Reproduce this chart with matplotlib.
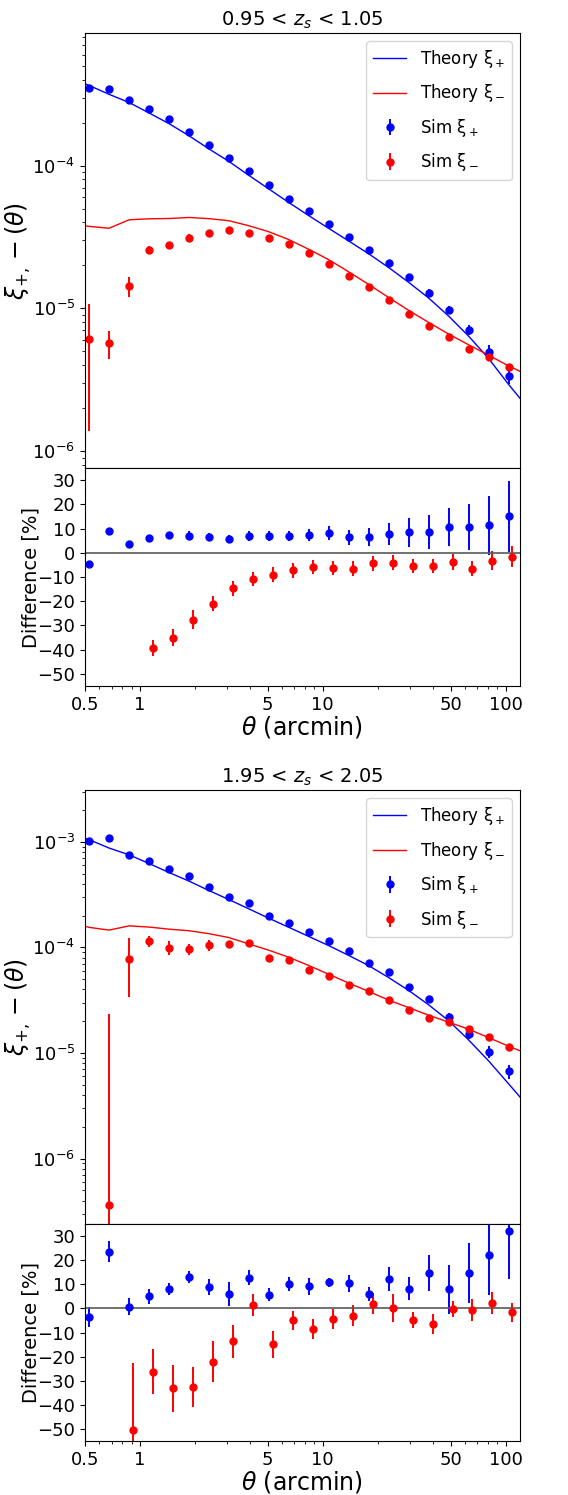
import numpy as np
import matplotlib
matplotlib.use("Agg")
import matplotlib.pyplot as plt
from matplotlib.ticker import FixedLocator, FixedFormatter, LogLocator, NullFormatter

# angular bins (arcmin)
theta = [0.526, 0.677, 0.871, 1.12, 1.44, 1.853, 2.383, 3.065, 3.942, 5.07, 6.522,
         8.388, 10.79, 13.88, 17.84, 22.95, 29.52, 37.97, 48.84, 62.81, 80.79, 103.9]
theta_edges = [0.5, 120]

titles = ['0.95 < $z_s$ < 1.05', '1.95 < $z_s$ < 2.05']

# z ~ 1
sim_p1 = [3.48e-4, 3.44e-4, 2.87e-4, 2.48e-4, 2.11e-4, 1.73e-4, 1.40e-4, 1.13e-4, 9.14e-5, 7.33e-5, 5.88e-5,
          4.79e-5, 3.92e-5, 3.15e-5, 2.57e-5, 2.08e-5, 1.65e-5, 1.28e-5, 9.75e-6, 7.06e-6, 4.95e-6, 3.37e-6]
th_p1 = [3.65e-4, 3.16e-4, 2.77e-4, 2.34e-4, 1.97e-4, 1.62e-4, 1.31e-4, 1.07e-4, 8.54e-5, 6.86e-5, 5.51e-5,
         4.46e-5, 3.63e-5, 2.96e-5, 2.41e-5, 1.93e-5, 1.52e-5, 1.18e-5, 8.82e-6, 6.38e-6, 4.45e-6, 2.93e-6]
th_p1_edges = [3.74e-4, 2.34e-6]
sim_m1 = [6.07e-6, 5.69e-6, 1.43e-5, 2.57e-5, 2.77e-5, 3.13e-5, 3.36e-5, 3.51e-5, 3.38e-5, 3.13e-5, 2.81e-5,
          2.44e-5, 2.05e-5, 1.68e-5, 1.41e-5, 1.14e-5, 9.14e-6, 7.53e-6, 6.34e-6, 5.19e-6, 4.54e-6, 3.88e-6]
th_m1 = [3.75e-5, 3.64e-5, 4.17e-5, 4.24e-5, 4.26e-5, 4.33e-5, 4.25e-5, 4.11e-5, 3.79e-5, 3.44e-5, 3.03e-5,
         2.59e-5, 2.19e-5, 1.80e-5, 1.47e-5, 1.19e-5, 9.67e-6, 7.96e-6, 6.60e-6, 5.55e-6, 4.69e-6, 3.95e-6]
th_m1_edges = [3.78e-5, 3.62e-6]
diff_p1 = [-4.7, 9.0, 3.6, 5.9, 7.2, 7.0, 6.6, 5.8, 7.0, 6.9, 6.8, 7.3, 8.0, 6.5, 6.5, 7.6, 8.4, 8.6, 10.6, 10.6, 11.3, 15.0]
err_p1 = [1.0, 1.0, 1.0, 1.0, 1.2, 1.9, 1.5, 1.5, 2.0, 2.0, 2.0, 2.5, 2.9, 3.1, 3.6, 4.5, 6.0, 7.2, 7.9, 9.5, 12.2, 14.5]
diff_m1 = [-83.8, -84.4, -65.7, -39.4, -35.0, -27.7, -21.0, -14.6, -10.8, -9.1, -7.3,
           -5.8, -6.3, -6.5, -4.3, -4.1, -5.5, -5.4, -3.9, -6.5, -3.2, -1.7]
err_m1 = [12.5, 3.5, 5.3, 3.4, 3.6, 3.9, 3.1, 3.1, 2.9, 3.1, 3.1, 3.0, 3.0, 3.2, 3.1, 3.0, 3.0, 2.9, 3.4, 3.1, 3.8, 4.3]

# z ~ 2
sim_p2 = [1.01e-3, 1.08e-3, 7.59e-4, 6.56e-4, 5.55e-4, 4.80e-4, 3.77e-4, 3.01e-4, 2.61e-4, 2.00e-4, 1.71e-4,
          1.39e-4, 1.15e-4, 9.27e-5, 7.13e-5, 5.82e-5, 4.23e-5, 3.28e-5, 2.18e-5, 1.53e-5, 1.03e-5, 6.75e-6]
th_p2 = [1.05e-3, 8.74e-4, 7.54e-4, 6.24e-4, 5.13e-4, 4.25e-4, 3.46e-4, 2.84e-4, 2.32e-4, 1.89e-4, 1.55e-4,
         1.27e-4, 1.04e-4, 8.40e-5, 6.72e-5, 5.18e-5, 3.91e-5, 2.86e-5, 2.02e-5, 1.33e-5, 8.42e-6, 5.11e-6]
th_p2_edges = [1.08e-3, 3.83e-6]
sim_m2 = [np.nan, 3.66e-7, 7.85e-5, 1.15e-4, 9.98e-5, 9.68e-5, 1.05e-4, 1.07e-4, 1.10e-4, 8.02e-5, 7.67e-5,
          6.17e-5, 5.33e-5, 4.45e-5, 3.90e-5, 3.18e-5, 2.56e-5, 2.13e-5, 1.95e-5, 1.67e-5, 1.43e-5, 1.14e-5]
th_m2 = [1.55e-4, 1.46e-4, 1.60e-4, 1.56e-4, 1.49e-4, 1.44e-4, 1.35e-4, 1.24e-4, 1.08e-4, 9.41e-5, 8.07e-5,
         6.74e-5, 5.57e-5, 4.59e-5, 3.83e-5, 3.17e-5, 2.69e-5, 2.28e-5, 1.96e-5, 1.68e-5, 1.40e-5, 1.16e-5]
th_m2_edges = [1.59e-4, 1.05e-5]
diff_p2 = [-3.6, 23.5, 0.7, 5.1, 8.2, 13.0, 9.0, 5.9, 12.7, 5.7, 10.0, 9.1, 10.8, 10.4, 6.1, 12.3, 8.2, 14.7, 7.9, 14.7, 22.3, 32.0]
err_p2 = [4.1, 4.3, 3.6, 3.1, 2.5, 2.6, 3.3, 5.1, 3.2, 2.7, 2.9, 3.4, 1.9, 3.6, 2.9, 5.0, 4.8, 7.3, 10.1, 12.3, 16.8, 20.0]
diff_m2 = [np.nan, -99.7, -50.5, -26.3, -33.1, -32.7, -22.1, -13.7, 1.4, -14.8, -4.9,
           -8.5, -4.3, -3.1, 1.9, 0.3, -4.9, -6.6, -0.3, -0.5, 2.2, -1.7]
err_m2 = [np.nan, 15.7, 28.0, 9.4, 9.7, 8.3, 8.6, 6.7, 4.7, 5.6, 3.9, 4.3, 4.2, 4.4, 4.3, 5.8, 3.3, 4.1, 3.3, 4.6, 4.7, 3.9]

ylims = [(7.6e-7, 8.5e-4), (2.4e-7, 3.1e-3)]

W, H = 568, 1495
fig = plt.figure(figsize=(W / 100, H / 100), dpi=100)

left, width = 85 / W, 435 / W
# (main top, main bottom, diff bottom) in pixels from the top
rows = [(33, 468, 686), (790, 1224, 1441)]

blocks = [
    (sim_p1, th_p1, th_p1_edges, sim_m1, th_m1, th_m1_edges, diff_p1, err_p1, diff_m1, err_m1),
    (sim_p2, th_p2, th_p2_edges, sim_m2, th_m2, th_m2_edges, diff_p2, err_p2, diff_m2, err_m2),
]

th_x = [theta_edges[0]] + theta + [theta_edges[1]]
t = np.array(theta)

for k, (sp, tp, tpe, sm, tm, tme, dp, ep, dm, em) in enumerate(blocks):
    top, mid, bot = rows[k]
    ax = fig.add_axes([left, 1 - mid / H, width, (mid - top) / H])
    axd = fig.add_axes([left, 1 - bot / H, width, (bot - mid) / H], sharex=ax)

    yerr_p = np.array(ep) / 100 * np.array(tp)
    yerr_m = np.array(em) / 100 * np.array(tm)

    ax.plot(th_x, [tpe[0]] + tp + [tpe[1]], color='blue', lw=1, label='Theory ξ$_+$')
    ax.plot(th_x, [tme[0]] + tm + [tme[1]], color='red', lw=1, label='Theory ξ$_-$')
    ax.errorbar(t, sp, yerr=yerr_p, fmt='o', color='blue', ms=5, elinewidth=1.4, label='Sim ξ$_+$')
    ax.errorbar(t, sm, yerr=yerr_m, fmt='o', color='red', ms=5, elinewidth=1.4, label='Sim ξ$_-$')
    ax.set_xscale('log')
    ax.set_yscale('log')
    ax.set_ylim(*ylims[k])
    ax.set_xlim(0.5, 120)
    ax.set_title(titles[k], fontsize=14, pad=5)
    ax.set_ylabel(r'$\xi_{+,}-(\theta)$', fontsize=17)
    ax.yaxis.set_label_coords(-0.12, 0.5)
    ax.legend(loc='upper right', fontsize=12, labelspacing=0.75)
    ax.tick_params(labelsize=13)
    ax.tick_params(axis='x', labelbottom=False)

    axd.errorbar(t, dp, yerr=ep, fmt='o', color='blue', ms=5, elinewidth=1.4)
    axd.errorbar(t * 1.05, dm, yerr=em, fmt='o', color='red', ms=5, elinewidth=1.4)
    axd.axhline(0, color='0.35', lw=1.2)
    axd.set_ylim(-55, 35)
    axd.set_yticks(np.arange(-50, 31, 10))
    axd.set_ylabel('Difference [%]', fontsize=14)
    axd.yaxis.set_label_coords(-0.103, 0.5)
    axd.set_xlabel(r'$\theta$ (arcmin)', fontsize=17, labelpad=0)
    axd.xaxis.set_major_locator(FixedLocator([0.5, 1, 5, 10, 50, 100]))
    axd.xaxis.set_major_formatter(FixedFormatter(['0.5', '1', '5', '10', '50', '100']))
    axd.xaxis.set_minor_locator(LogLocator(subs=np.arange(2, 10)))
    axd.xaxis.set_minor_formatter(NullFormatter())
    axd.tick_params(labelsize=13)
    axd.set_xlim(0.5, 120)

fig.savefig('out.png', dpi=100)
